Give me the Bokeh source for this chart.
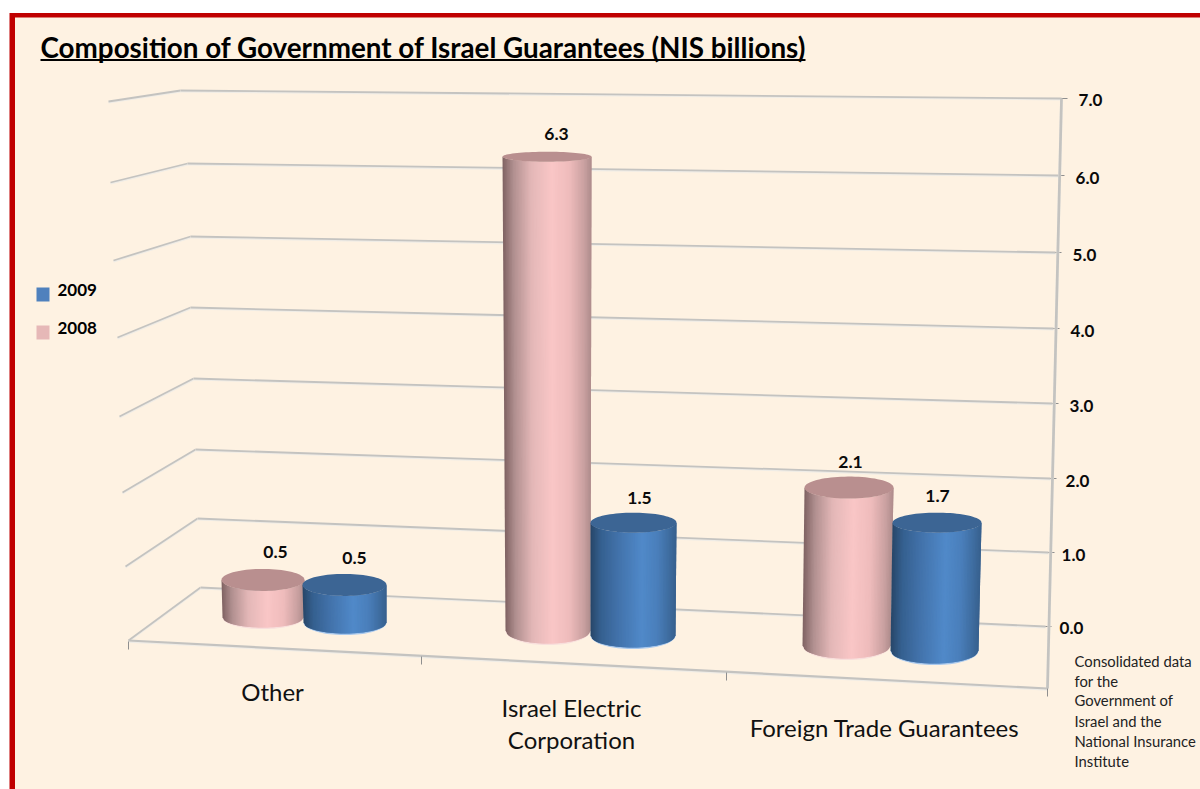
import numpy as np
from bokeh.core.properties import value
from bokeh.embed import file_html
from bokeh.models import Range1d
from bokeh.plotting import figure
from bokeh.resources import INLINE

# Chart data
title_text = "Composition of Government of Israel Guarantees (NIS billions)"
categories = [["Other"], ["Israel Electric", "Corporation"], ["Foreign Trade Guarantees"]]
series_names = ["2009", "2008"]
values_2008 = [0.5, 6.3, 2.1]
values_2009 = [0.5, 1.5, 1.7]
axis_ticks = [0, 1, 2, 3, 4, 5, 6, 7]
note_lines = ["Consolidated data", "for the", "Government of", "Israel and the",
              "National Insurance", "Institute"]

FONT = value("Lato")
PAGE_BG = "#fef2e2"
RED = "#c00000"
PINK = "#e6b8b7"
BLUE = "#4f81bd"
UNIT_PX = 75.2     # screen height of one NIS billion

p = figure(width=1200, height=789, x_range=Range1d(0, 1200), y_range=Range1d(789, 0),
           output_backend="svg", toolbar_location=None, min_border=0,
           background_fill_color="white", border_fill_color="white", outline_line_color=None)
p.xaxis.visible = False
p.yaxis.visible = False
p.xgrid.visible = False
p.ygrid.visible = False

# Panel with its red frame on the top and left edges
p.quad(left=[9], right=[1210], top=[12.5], bottom=[800], fill_color=RED, line_color=None)
p.quad(left=[14.5], right=[1210], top=[17], bottom=[800], fill_color=PAGE_BG, line_color=None)


def rail(x0, y0, x1, y1, width=2.0):
    """A grey chart rule with a pale highlight along its lower side."""
    p.line([x0, x1], [y0 + 1, y1 + 1], line_color="#efece6", line_width=width)
    p.line([x0, x1], [y0, y1], line_color="#c4c3c0", line_width=width * 0.9)


# Corner positions of the perspective walls, one row per axis tick
wall_left = [(128, 640), (125, 566), (122, 492), (119, 416), (117, 337), (113, 260), (110, 182), (108, 101)]
wall_back = [(200, 587), (197, 518), (195, 449), (193, 378), (190, 307), (190, 236), (187, 163), (180, 90)]
wall_right = [(1045, 626), (1048, 552), (1050, 478), (1052, 403), (1053, 328), (1055, 252), (1058, 175), (1061, 98)]
tick_label_pos = [(1071, 627), (1073, 554), (1077, 480), (1081, 405), (1082, 330), (1084, 254), (1087, 177), (1090, 99)]

for a, b, c in zip(wall_left, wall_back, wall_right):
    rail(a[0], a[1], b[0], b[1])
    rail(b[0], b[1], c[0], c[1])
    p.line([c[0], c[0] + 6], [c[1], c[1]], line_color="#8f8f8f", line_width=1)

rail(1061, 98, 1047, 688, 3.0)
rail(128, 640, 1047, 688, 2.4)
for x, y in [(128, 641), (421, 656), (726, 672), (1047, 688)]:
    p.line([x, x], [y, y + 8], line_color="#8f8f8f", line_width=1)

for tick, (x, y) in zip(axis_ticks, tick_label_pos):
    p.text([x], [y], text=[f"{tick:.1f}"], text_font=FONT, text_font_style="bold",
           text_font_size="17px", text_color="#0a0a0a", text_align="center", text_baseline="middle")

PINK_RAMP = [(0.0, "#7f6262"), (0.12, "#b08f8f"), (0.32, "#e3b7b7"), (0.55, "#f9c6c6"),
             (0.75, "#efbcbc"), (0.92, "#c9a0a0"), (1.0, "#ae8c8c")]
BLUE_RAMP = [(0.0, "#274668"), (0.12, "#35608f"), (0.32, "#4272aa"), (0.60, "#5089c9"),
             (0.78, "#4a7fbb"), (0.92, "#3e6c9f"), (1.0, "#37608d")]


def ramp_colour(stops, t):
    pos = [s[0] for s in stops]
    rgb = np.array([[int(s[1][i:i + 2], 16) for i in (1, 3, 5)] for s in stops], dtype=float)
    mix = [np.interp(t, pos, rgb[:, k]) for k in range(3)]
    return "#%02x%02x%02x" % tuple(int(round(m)) for m in mix)


def cylinder(amount, geom, ramp, top_colour, rim_colour):
    """Shaded cylinder whose height on screen is amount * UNIT_PX above its base ellipse."""
    top_l, top_r, base_l, base_r, base_y, ry_top, ry_base = geom
    top_y = base_y - amount * UNIT_PX

    # Pale fringe under the base
    t = np.linspace(0, np.pi, 40)
    bx = (base_l + base_r) / 2 + (base_r - base_l) / 2 * np.cos(t)
    p.patch(list(bx), list(base_y + (ry_base + 1.6) * np.sin(t)), fill_color=rim_colour, line_color=None)

    # Body, built of narrow strips following the ellipses; each strip runs under
    # its right-hand neighbour so that no seams show between them
    n = 60
    xs, ys, colours = [], [], []
    u = np.linspace(-1, 1, n + 1)
    top_x = (top_l + top_r) / 2 + u * (top_r - top_l) / 2
    bot_x = (base_l + base_r) / 2 + u * (base_r - base_l) / 2
    top_edge = top_y + ry_top * np.sqrt(1 - u ** 2)
    bot_edge = base_y + ry_base * np.sqrt(1 - u ** 2)
    for i in range(n):
        j = min(i + 2, n)
        xs.append([top_x[i], top_x[j], bot_x[j], bot_x[i]])
        ys.append([top_edge[i], top_edge[j], bot_edge[j], bot_edge[i]])
        colours.append(ramp_colour(ramp, (i + 0.5) / n))
    p.patches(xs, ys, fill_color=colours, line_color=None)

    # Top cap
    t = np.linspace(0, 2 * np.pi, 80)
    p.patch(list((top_l + top_r) / 2 + (top_r - top_l) / 2 * np.cos(t)),
            list(top_y + ry_top * np.sin(t)), fill_color=top_colour, line_color=None)


# Cylinder outlines on screen: top left/right, base left/right, base y, cap and base radii
geom_2008 = [(221, 304, 222, 303, 617, 11, 10),
             (502, 591, 505, 590, 630, 5, 13),
             (804, 893, 802, 890, 645, 11, 13)]
geom_2009 = [(302, 386, 303, 386, 622, 11, 11),
             (590, 676, 590, 675, 635, 10, 12),
             (892, 981, 890, 978, 650, 10, 13)]
label_pos_2008 = [(275, 551), (556, 133), (850, 461)]
label_pos_2009 = [(354, 557), (639, 497), (937, 495)]

for v8, g8, v9, g9 in zip(values_2008, geom_2008, values_2009, geom_2009):
    cylinder(v8, g8, PINK_RAMP, "#b98f8f", "#f8dfdc")
    cylinder(v9, g9, BLUE_RAMP, "#3c6594", "#a9c8ec")

for v, (x, y) in zip(values_2008 + values_2009, label_pos_2008 + label_pos_2009):
    p.text([x], [y], text=[f"{v:.1f}"], text_font=FONT, text_font_style="bold",
           text_font_size="17.5px", text_color="#0a0a0a", text_align="center", text_baseline="middle")

# Category captions
caption_pos = [[(272, 691)], [(571, 707), (571, 739)], [(884, 727)]]
for lines, places in zip(categories, caption_pos):
    for line, (x, y) in zip(lines, places):
        p.text([x], [y], text=[line], text_font=FONT, text_font_size="24px",
               text_color="#111111", text_align="center", text_baseline="middle")

# Legend
for name, colour, y0 in zip(series_names, [BLUE, PINK], [287, 325]):
    p.quad(left=[36], right=[49], top=[y0], bottom=[y0 + 14], fill_color=colour, line_color=None)
    p.text([57], [y0 + 2], text=[name], text_font=FONT, text_font_style="bold",
           text_font_size="17px", text_color="#000000", text_baseline="middle")

# Heading with its rule beneath
p.text([40], [47], text=[title_text], text_font=FONT, text_font_style="bold",
       text_font_size="27.8px", text_color="#000000", text_baseline="middle")
p.line([40, 805], [59.5, 59.5], line_color="#000000", line_width=2)

# Source note
for line, y in zip(note_lines, [660, 680, 699, 720, 740, 760]):
    p.text([1074], [y], text=[line], text_font=FONT, text_font_size="14.8px",
           text_color="#222222", text_baseline="middle")

open("out.html", "w").write(file_html(p, INLINE))
